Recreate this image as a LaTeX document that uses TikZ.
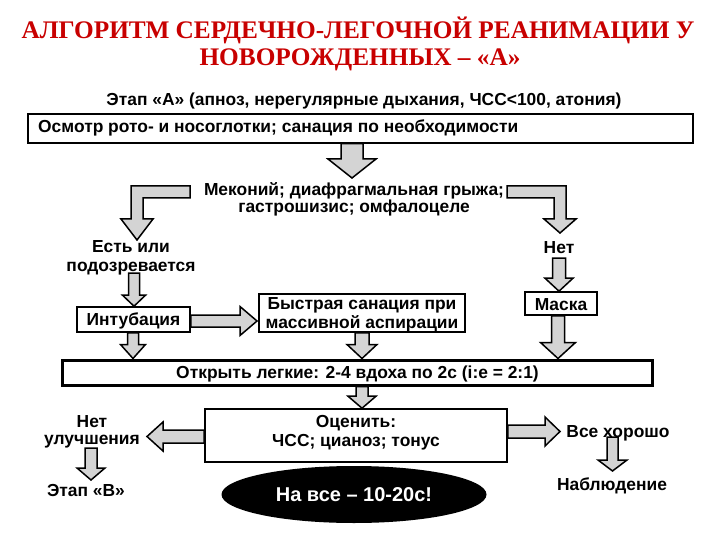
\documentclass[tikz,border=0pt]{standalone}
\usepackage{fontspec}
\setmainfont{Liberation Serif}
\setsansfont{Liberation Sans}
\usetikzlibrary{calc,shapes.geometric}
\definecolor{titlered}{RGB}{200,0,0}
\definecolor{arrgray}{RGB}{212,212,212}
\tikzset{
  titletxt/.style={font=\fontsize{25.3}{27}\selectfont\bfseries\rmfamily, text=titlered, inner sep=0pt},
  lbl/.style={font=\fontsize{17.4}{19}\selectfont\bfseries\sffamily, inner sep=0pt, align=center},
  boxn/.style={draw=black, line width=1.6pt, fill=white, font=\fontsize{17.4}{19}\selectfont\bfseries\sffamily, inner sep=0pt, align=center},
  blk/.style={draw=black, line width=1.5pt, fill=arrgray, line join=miter},
}
% vertical block arrow: start, tip, shaft half-width, head half-width, head length
\newcommand\dnarr[5]{\draw[blk] let \p1=#1, \p2=#2 in
  (\x2-#3,\y1) -- (\x2-#3,\y2+#5) -- (\x2-#4,\y2+#5) -- (\x2,\y2) -- (\x2+#4,\y2+#5) -- (\x2+#3,\y2+#5) -- (\x2+#3,\y1) -- cycle;}
% horizontal block arrow pointing right
\newcommand\rtarr[5]{\draw[blk] let \p1=#1, \p2=#2 in
  (\x1,\y2+#3) -- (\x2-#5,\y2+#3) -- (\x2-#5,\y2+#4) -- (\x2,\y2) -- (\x2-#5,\y2-#4) -- (\x2-#5,\y2-#3) -- (\x1,\y2-#3) -- cycle;}
% horizontal block arrow pointing left
\newcommand\lfarr[5]{\draw[blk] let \p1=#1, \p2=#2 in
  (\x1,\y2+#3) -- (\x2+#5,\y2+#3) -- (\x2+#5,\y2+#4) -- (\x2,\y2) -- (\x2+#5,\y2-#4) -- (\x2+#5,\y2-#3) -- (\x1,\y2-#3) -- cycle;}
\begin{document}
\begin{tikzpicture}[x=1pt,y=-1pt]
\useasboundingbox (0,0) rectangle (720,540);
% title
\node[titletxt] (t1) at (358,30) {АЛГОРИТМ СЕРДЕЧНО-ЛЕГОЧНОЙ РЕАНИМАЦИИ У};
\node[titletxt] (t2) at (360,60) {НОВОРОЖДЕННЫХ – «А»};
% header
\node[lbl] (hdr) at (364,101) {Этап «А» (апноз, нерегулярные дыхания, ЧСС<100, атония)};
\node[boxn, minimum width=665, minimum height=29, anchor=north west] (b1) at (27,113) {};
\node[lbl, anchor=west] (b1t) at (38,128) {Осмотр рото- и носоглотки; санация по необходимости};
% meconium question
\node[lbl, font=\fontsize{17.4}{17}\selectfont\bfseries\sffamily] (mek) at (354,199) {Меконий; диафрагмальная грыжа;\\гастрошизис; омфалоцеле};
\node[lbl] (yes) at (131,257.5) {Есть или\\подозревается};
\node[lbl] (no) at (559,248) {Нет};
% boxes
\node[boxn, minimum width=113, minimum height=25] (intub) at (133.5,319.5) {};
\node[lbl] (intubt) at (133.5,320.5) {Интубация};
\node[boxn, minimum width=206, minimum height=38] (fast) at (362,313) {};
\node[lbl] (fastt) at (362,315) {Быстрая санация при\\массивной аспирации};
\node[boxn, line width=3pt, minimum width=590, minimum height=25] (open) at (357,372.5) {};
\node[lbl] (opent) at (357.5,374) {Открыть легкие: 2-4 вдоха по 2с (i:e = 2:1)};
\node[boxn, minimum width=72, minimum height=23] (mask) at (561,303.5) {};
\node[lbl] (maskt) at (561,304.5) {Маска};
\node[boxn, minimum width=302, minimum height=53] (eval) at (356,435.5) {};
\node[lbl] (evalt) at (356,432.5) {Оценить:\\ЧСС; цианоз; тонус};
% outcomes
\node[lbl, font=\fontsize{17.4}{17}\selectfont\bfseries\sffamily] (ni) at (92,432) {Нет\\улучшения};
\node[lbl] (stB) at (86,491) {Этап «В»};
\node[lbl] (good) at (618,433) {Все хорошо};
\node[lbl] (obs) at (612,486) {Наблюдение};
\node[ellipse, fill=black, minimum width=265, minimum height=57, inner sep=0pt, font=\fontsize{20}{22}\selectfont\bfseries\sffamily, text=white] (time) at (354,494.5) {На все – 10-20с!};
% arrows
\dnarr{(352,0 |- b1.south)}{(352,178)}{11pt}{24pt}{19pt}
\draw[blk] (190,186) -- (131,186) -- (131,219) -- (121,219) -- (137,240) -- (153,219) -- (143,219) -- (143,198) -- (190,198) -- cycle;
\draw[blk] (507,186) -- (566,186) -- (566,219) -- (576,219) -- (560,233) -- (544,219) -- (554,219) -- (554,198) -- (507,198) -- cycle;
\dnarr{(134,273)}{(134,0 |- intub.north)}{5.5pt}{11.5pt}{11pt}
\dnarr{(559,258)}{(559,0 |- mask.north)}{6.5pt}{14pt}{13pt}
\rtarr{(intub.east)}{(257,321)}{6pt}{14.5pt}{17pt}
\dnarr{(133,0 |- intub.south)}{(133,0 |- open.north)}{5.5pt}{12.5pt}{14pt}
\dnarr{(362,0 |- fast.south)}{(362,0 |- open.north)}{7pt}{15pt}{14pt}
\dnarr{(558,0 |- mask.south)}{(558,0 |- open.north)}{6.5pt}{17.5pt}{16pt}
\dnarr{(362,0 |- open.south)}{(362,0 |- eval.north)}{6pt}{14pt}{12pt}
\lfarr{(eval.west)}{(147,436.5)}{6.5pt}{14.5pt}{16pt}
\rtarr{(eval.east)}{(560,431.5)}{6.5pt}{14.5pt}{15pt}
\dnarr{(91,448)}{(91,480)}{6pt}{14pt}{12pt}
\dnarr{(612.5,437)}{(612.5,471)}{5.5pt}{14.5pt}{11pt}
\end{tikzpicture}
\end{document}
